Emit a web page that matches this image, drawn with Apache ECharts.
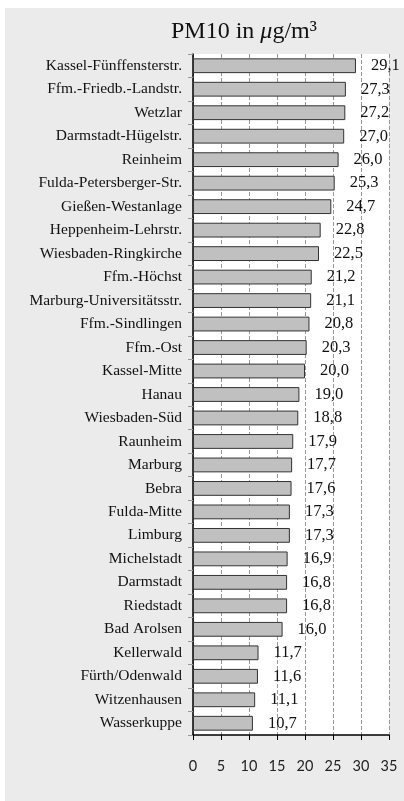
<!DOCTYPE html>
<html>
<head>
<meta charset="utf-8">
<script src="https://cdn.jsdelivr.net/npm/echarts@6/dist/echarts.min.js"></script>
<style>html,body{margin:0;padding:0;background:#fff}#c{width:404px;height:801px}</style>
</head>
<body>
<div id="c"></div>
<script>
const categories = ["Kassel-Fünffensterstr.","Ffm.-Friedb.-Landstr.","Wetzlar","Darmstadt-Hügelstr.","Reinheim","Fulda-Petersberger-Str.","Gießen-Westanlage","Heppenheim-Lehrstr.","Wiesbaden-Ringkirche","Ffm.-Höchst","Marburg-Universitätsstr.","Ffm.-Sindlingen","Ffm.-Ost","Kassel-Mitte","Hanau","Wiesbaden-Süd","Raunheim","Marburg","Bebra","Fulda-Mitte","Limburg","Michelstadt","Darmstadt","Riedstadt","Bad Arolsen","Kellerwald","Fürth/Odenwald","Witzenhausen","Wasserkuppe"];
const values = [29.1,27.3,27.2,27.0,26.0,25.3,24.7,22.8,22.5,21.2,21.1,20.8,20.3,20.0,19.0,18.8,17.9,17.7,17.6,17.3,17.3,16.9,16.8,16.8,16.0,11.7,11.6,11.1,10.7];
const xTicks = [0,5,10,15,20,25,30,35];

const chart = echarts.init(document.getElementById('c'));
chart.setOption({
  backgroundColor: '#fff',
  animation: false,
  graphic: [{
    type: 'rect', z: -10, silent: true,
    shape: {x: 5, y: 8, width: 404, height: 801},
    style: {fill: '#ebebeb'}
  }],
  title: {
    text: '{n|PM10 in }{i|μ}{n|g/m³}',
    left: 166, top: 15,
    textStyle: {
      fontWeight: 'normal',
      rich: {
        n: {fontFamily: 'Liberation Serif', fontWeight: 'normal', fontSize: 24, color: '#111'},
        i: {fontFamily: 'Liberation Serif', fontStyle: 'italic', fontWeight: 'normal', fontSize: 24, color: '#111'}
      }
    }
  },
  grid: {left: 193, right: 15, top: 54, bottom: 66, show: true, backgroundColor: '#fff', borderWidth: 0},
  xAxis: {
    type: 'value', min: 0, max: 35, interval: 5,
    axisLine: {show: true, lineStyle: {color: '#000', width: 1.5}},
    axisTick: {show: true, length: 5, lineStyle: {color: '#000'}},
    splitLine: {show: true, lineStyle: {type: 'dashed', color: '#999'}},
    axisLabel: {
      margin: 24, fontFamily: 'Lato', fontSize: 14.5, color: '#222',
      formatter: v => xTicks.includes(v) ? String(v) : ''
    }
  },
  yAxis: {
    type: 'category', data: categories, inverse: true,
    axisLine: {show: true, lineStyle: {color: '#000', width: 1.5}},
    axisTick: {show: true, length: 5, lineStyle: {color: '#999'}},
    axisLabel: {margin: 11, fontFamily: 'Liberation Serif', fontSize: 15.5, color: '#111'}
  },
  series: [{
    type: 'bar', data: values, barCategoryGap: '37%',
    itemStyle: {color: '#c0c0c0', borderColor: '#333', borderWidth: 1},
    label: {
      show: true, position: 'right', distance: 15,
      fontFamily: 'Liberation Serif', fontSize: 16.5, color: '#111',
      formatter: p => p.value.toFixed(1).replace('.', ',')
    }
  }]
});
</script>
</body>
</html>
